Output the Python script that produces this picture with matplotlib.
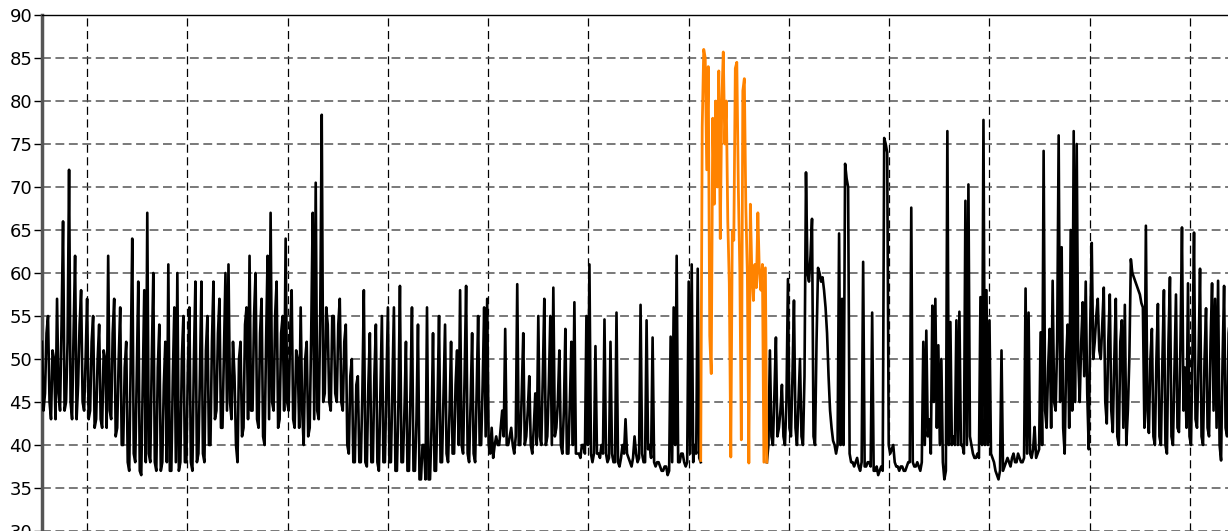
import numpy as np
import matplotlib.pyplot as plt

plt.rcParams['font.family'] = ['DejaVu Sans']

# black trace before the orange episode: readings every ~3 px ...
black_a = [52, 46, 55, 43, 50, 57, 44, 66, 45, 72, 43, 62, 47, 58, 44,
           57, 44, 55, 43, 54, 42, 50, 62, 43, 57, 42, 56, 40, 52, 37, 64, 38, 59, 36.5, 58,
           67, 38, 60, 37, 54, 38, 52, 61, 37, 56, 60, 38, 55,
           38, 56, 37, 59, 39, 59, 38, 55, 40, 59, 44, 57, 42, 60, 61, 43, 48, 38, 52, 42,
           56, 62, 44, 60, 42, 57, 40, 62, 67, 44, 59, 43, 55, 64,
           44, 58, 42, 50, 56, 40, 52, 42, 67, 70.5, 43, 78.4, 46, 54, 44, 55, 45, 57, 44,
           54, 39, 50, 38, 48, 38, 58, 37.5, 53, 38, 54, 37, 55, 38, 56,
           38, 56, 37, 58.5, 38, 52, 37, 56, 37, 54, 36, 40, 56, 36, 53, 37, 55, 38, 54,
           38, 52, 39, 51, 58, 39, 58.5, 38, 53, 38, 55, 40, 56, 57, 39,
           38.5, 41, 40, 44, 53.5, 40, 42, 39, 58.7, 40, 53, 41, 48, 39, 46, 55, 40, 57,
           41, 55, 58.3, 42, 51, 39, 53.5, 39, 52, 56.6, 39, 38.5, 40, 55, 61,
           38, 51.5, 39, 40, 54.6, 38, 52, 38, 55.4, 37.5, 40, 43, 38.5, 37.5, 41, 38, 56.3,
           38, 54.5, 40, 52.5, 37.5, 38, 37, 37.5, 36.5, 52.6, 56, 62, 38, 39, 37.5, 59, 61,
           40, 60.5, 38]
# ... and the readings half way between them
black_a_mid = [44, 53, 45, 51, 43, 46, 54, 44, 52, 45, 53, 43, 54, 45, 50,
               43, 52, 42, 50, 43, 51, 42, 44, 53, 41, 50, 40, 49, 38, 50, 39, 48, 37, 47, 38,
               39, 50, 38, 49, 37, 47, 38, 37, 48, 38, 37, 50, 38,
               49, 38, 50, 38, 48, 39, 51, 40, 52, 43, 53, 42, 51, 44, 45, 52, 40, 50, 41, 54,
               43, 44, 55, 43, 53, 41, 52, 43, 45, 55, 42, 53, 44, 45,
               53, 43, 51, 42, 44, 50, 41, 53, 43, 44, 55, 45, 56, 45, 55, 46, 54, 45, 52,
               40, 48, 38, 47, 38, 46, 38, 47, 38, 48, 38, 46, 38, 47, 38,
               47, 37, 45, 38, 44, 37, 46, 37, 43, 36, 40, 36, 36, 42, 37, 45, 38, 46, 39,
               44, 39, 47, 40, 40, 48, 39, 45, 39, 46, 40, 47, 41, 40, 42,
               40, 40, 42, 41, 40, 41, 40, 41, 40, 46, 40, 44, 40, 42, 40, 41, 48, 40,
               47, 40, 41, 45, 40, 44, 39, 45, 40, 39, 39, 40, 39, 40, 39,
               39, 39, 38.5, 39, 39, 38.5, 39, 38, 38, 38.5, 39, 39, 38, 38.5, 39, 38.5, 39,
               38, 39.5, 38.5, 38, 38, 37.5, 37, 37.5, 37, 38, 40, 38, 39, 38, 38, 39, 38,
               39, 38.5, 38]

# orange episode, readings every ~1.5 px
orange = [38.2, 77, 86, 85, 72, 84, 52.7, 48.3, 78, 68, 80, 70, 83.5, 64, 80, 85.7,
          75, 80, 66, 58.8, 38.6, 64.9, 63.8, 83.8, 84.5, 70, 60.3, 40.6, 81.2, 82.6,
          67.6, 60, 37.9, 68, 59.9, 56.8, 61, 58.3, 67, 60, 58, 61, 38, 60.6, 38]

# black trace after the orange episode
black_b = [38, 51, 40, 52.5, 42, 47, 40, 59.3, 41, 56.8,
           40, 50, 40, 71.7, 59, 66.3, 40, 60.6, 59, 58,
           53, 44, 40.5, 39, 64.6, 57, 72.7, 70, 38, 37.5,
           38.5, 37, 61.3, 37.5, 38, 55.4, 37, 36.5, 37.5, 75.7,
           74, 39, 40, 37.5, 37, 37.5, 37, 38, 67.6, 37.5,
           38, 37, 52, 53.3, 43, 56.2, 57, 51.6, 50, 36,
           76.5, 54.3, 41, 54.5, 55.5, 40, 68.4, 70.3, 40, 38.5,
           39, 57.2, 77.8, 58, 54.5, 38.5, 37, 36, 51, 37.5,
           38.5, 37.5, 39, 38, 38.5, 38, 58.2, 55.4, 38.5, 42.1,
           39, 53.1, 74.2, 42, 53.5, 59.1, 44, 76, 63, 39,
           54, 65, 76.5, 75, 45, 56.6, 59, 39.5, 63.5, 52,
           57, 50, 58.3, 42.5, 57.5, 41.5, 57, 40, 54.5, 56.3,
           44, 61.6, 59.5, 58.5, 57.5, 56, 65.5, 41.4, 53.5, 40,
           56.4, 40, 58, 39, 59.5, 40, 57.5, 41.5, 65.3, 49,
           58.8, 40, 64.7, 42, 60.5, 40, 55.9, 41, 58.8, 57,
           59.1, 38.2, 58.5, 41, 55, 66.7]
black_b_mid = [40, 41, 46, 41, 44, 41, 45, 42, 48, 42,
               45, 41, 48, 60, 62, 41, 52, 60, 59.5, 56,
               48, 42, 40, 40, 40, 40, 71, 39, 38, 38,
               37.5, 38, 37.5, 38, 37.5, 37, 37.5, 37, 37, 75,
               40, 39.5, 38, 37.5, 37.5, 37, 37.5, 38, 38, 37.5,
               37.5, 38, 40, 41, 39, 45, 42, 40, 38, 37,
               40, 40, 40, 40, 40, 39, 40, 41, 39, 38.5,
               38.5, 40, 40, 40, 39, 38, 36.5, 37, 37, 38,
               38, 38.5, 38, 39, 38, 38.5, 39, 39, 39.5, 38.5,
               39.5, 40, 44, 49, 42, 45, 52, 45, 42, 50,
               42, 44, 45, 50, 52, 48, 46, 54, 50, 55,
               51, 54, 45, 52, 44, 50, 41, 52, 42, 40,
               50, 60, 59, 58, 56.5, 42, 44, 50, 41, 50,
               41, 50, 40, 52, 41, 49, 42, 52, 44, 42,
               41, 51, 43, 50, 41, 50, 42, 52, 44, 42,
               40, 50, 42, 53, 45, 50]

yticks = list(range(30, 95, 5))


def interleave(main, mid):
    out = np.empty(2*len(main))
    out[0::2] = main
    out[1::2] = mid
    return out[:-1]


# x measured in grid divisions, ~100 px each
step = 0.03
x_start = -0.449

ya = interleave(black_a, black_a_mid)
yb = interleave(black_b, black_b_mid)
xa = x_start + step/2*np.arange(len(ya))
xo = xa[-1] + step/2*np.arange(len(orange))
xb = xo[-1] + step/2*np.arange(len(yb))

fig = plt.figure(figsize=(12.28, 5.31), dpi=100)
ax = fig.add_axes([42/1228, 0, 1-42/1228, 516/531])

ax.plot(xa, ya, color='black', lw=1.9, zorder=3)
ax.plot(xb, yb, color='black', lw=1.9, zorder=3)
ax.plot(xo, orange, color='#ff8300', lw=2.0, zorder=4)

ax.set_xlim(x_start, 11.38)
ax.set_ylim(30, 90)
ax.set_yticks(yticks)
ax.set_xticks(np.arange(0, 12))
ax.tick_params(axis='x', length=0, labelbottom=False)
ax.tick_params(axis='y', length=6, width=1, pad=1, labelsize=13, colors='black')

ax.yaxis.grid(True, color='#555555', lw=1.1, linestyle=(0, (5.8, 3.0)))
ax.xaxis.grid(True, color='black', lw=0.9, linestyle=(0, (6.5, 3.6)))
ax.set_axisbelow(True)

ax.spines['right'].set_visible(False)
ax.spines['bottom'].set_visible(False)
ax.spines['top'].set_linewidth(1)
ax.spines['left'].set_linewidth(2.5)
ax.spines['left'].set_color('#555555')

fig.savefig('out.png', dpi=100)
